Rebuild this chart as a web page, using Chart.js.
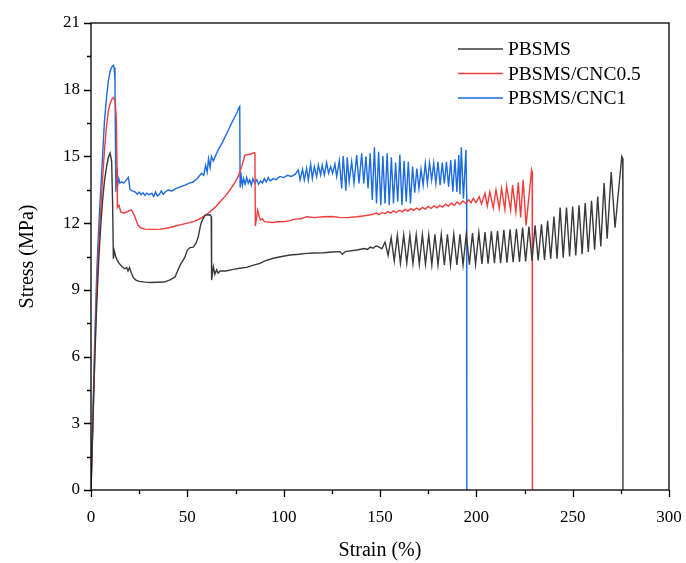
<!DOCTYPE html>
<html>
<head>
<meta charset="utf-8">
<script src="https://cdn.jsdelivr.net/npm/chart.js@4.4.0/dist/chart.umd.min.js"></script>
<style>
  html, body { margin: 0; padding: 0; background: #fff; }
</style>
</head>
<body>
<canvas id="grafica" width="686" height="563"></canvas>
<script>
// valores (deformacion %, esfuerzo MPa)
const blackStrain = [0,1,2,3,4,5,6,7,8,9,9.9,10.7,11.2,11.6,12.1,12.8,13.5,14.5,16,17.5,
  18.5,19.2,20,21,22,23.3,25,28,31,34,38,41,43.6,46.2,48.8,50,51.4,53.1,54.5,55.7,
  56.6,57.4,59.2,61.8,62.4,62.6,63.5,64.3,65.2,66,67,70,73.8,77.3,80.7,84,87.7,90.3,94.6,99,
  103.3,108,112,116,120.6,125,129.2,130.5,132,137.9,142,143.5,145,146.5,148,149.5,
  151.0,152.6,154.2,155.8,157.4,159.0,160.6,162.3,163.9,165.5,167.1,168.8,170.4,172.0,173.6,175.3,176.9,178.5,180.1,181.8,
  183.4,185.0,186.6,188.3,189.9,191.5,193.1,194.8,196.4,198.0,199.6,201.3,202.9,204.5,206.1,207.8,209.4,211.0,212.6,214.3,
  215.9,217.5,219.1,220.8,222.4,224.0,225.6,227.3,228.9,230.5,232.1,233.8,235.4,237.0,238.6,240.3,241.9,243.5,245.1,246.8,
  248.4,250.0,251.6,253.3,254.9,256.5,258.1,259.8,261.4,263.0,264.6,266.3,267.9,270.0,272.0,275.5,276.0,276.1];
const blackStress = [0,3,6,8.4,10.3,11.8,13,13.9,14.5,14.95,15.15,14.8,13,10.4,10.75,10.5,10.35,10.2,10.05,9.95,
  10.0,9.85,10.0,9.75,9.55,9.44,9.38,9.35,9.33,9.34,9.35,9.45,9.58,10.1,10.48,10.79,10.9,10.92,11.1,11.39,
  11.8,12.07,12.36,12.38,12.3,9.44,10.04,9.7,9.9,9.75,9.85,9.85,9.92,9.97,10.01,10.1,10.19,10.3,10.42,10.5,
  10.57,10.6,10.64,10.66,10.67,10.7,10.72,10.6,10.72,10.79,10.86,10.82,10.92,10.87,10.98,10.92,
  10.85,11.15,10.55,11.35,10.3,11.45,10.2,11.47,10.2,11.47,10.18,11.48,10.15,11.48,10.15,11.48,10.12,11.5,10.12,11.5,
  10.12,11.5,10.12,11.5,10.12,11.5,10.12,11.52,10.13,11.55,10.15,11.58,10.17,11.6,10.18,11.63,10.2,11.66,10.2,11.7,
  10.22,11.72,10.24,11.75,10.26,11.8,10.28,11.85,10.3,11.9,10.32,11.95,10.35,12.1,10.4,12.3,10.4,12.7,10.45,12.7,
  10.5,12.75,10.55,12.8,10.6,12.9,10.7,13.0,10.8,13.2,10.95,13.8,11.3,14.3,11.8,15.0,14.9,0];

const redStrain = [0,1,2,3,4,5,6,7,8,9,10,11,11.8,12.6,13.2,13.5,13.7,14.5,15.5,17,
  18.5,19.5,21,22.5,24.4,26,28,32,36,40,43,46.2,50,53.1,56,58.3,61.8,64.5,67,70,
  72.1,74.5,76.4,78.2,79.9,82.5,84.8,85.1,85.3,86.5,87.3,88,89,90,92,94.5,97,99.7,103,106,
  109,112,116,120.6,125,129,133,138,142,146.5,
  148,149.5,151,152.5,154,155.5,157,158.5,160,161.5,163,164.5,166,167.5,169,170.5,172,173.5,175,176.5,
  178,179.5,181,182.5,184,185.5,187,188.5,190,191.5,193,194.5,196,197.3,
  198.4,199.8,201.5,202.7,204.5,205.7,207,208.8,210.2,211.9,213.1,214.8,215.7,217.8,218.8,220.5,221.8,223,224.3,225.8,
  228.7,229,229.1];
const redStress = [0,3,6.2,9,11,12.6,14,15.3,16.3,17.05,17.4,17.6,17.65,17.45,16.6,14.5,12.7,12.8,12.5,12.45,
  12.5,12.55,12.6,12.35,11.9,11.78,11.73,11.72,11.73,11.78,11.85,11.92,12.0,12.07,12.17,12.29,12.51,12.72,12.96,13.25,
  13.49,13.8,14.09,14.54,15.06,15.1,15.17,15.1,11.87,12.59,12.3,12.14,12.2,12.07,12.05,12.03,12.06,12.06,12.1,12.18,
  12.2,12.29,12.25,12.29,12.3,12.26,12.25,12.29,12.33,12.4,
  12.45,12.38,12.48,12.42,12.52,12.45,12.55,12.48,12.58,12.51,12.62,12.54,12.65,12.57,12.68,12.6,12.71,12.63,12.75,12.66,
  12.78,12.69,12.8,12.72,12.85,12.76,12.9,12.8,12.95,12.85,13.0,12.88,13.05,12.92,
  13.11,12.92,13.19,12.86,13.34,12.77,13.41,12.69,13.49,12.67,13.56,12.62,13.67,12.59,13.71,12.51,13.82,12.26,13.95,11.9,
  14.4,14.3,0];

const blueStrain = [0,1,2,3,4,5,6,7,8,9,10,11,11.6,12.0,12.45,12.7,12.9,13.3,13.8,14.4,
  15,15.9,17,18,19.4,20.3,21.5,23,24,25,26,27,28,29,30,31.6,32.5,33.5,34.5,35.5,
  36.5,37.5,38.5,40,42,44,46,48.8,51,53,55,57.4,58.5,59.5,60.3,61,61.8,62.5,63.5,65,
  66,68,70,71.3,73,74.5,75.6,76.8,77.2,77.4,78,78.6,79.2,80,80.8,81.6,82.4,83.2,84,85,
  86,87,88,89,90,91,92,93,94.6,96,98,100,102,104,106,
  107.6,108.5,109.8,110.7,111.9,112.8,114,114.9,115.9,117.1,118,119.2,120,121.1,122.3,123.3,124.4,125.4,126.6,127.5,
  128.9,130.1,130.9,132.3,133,134,135.3,136.5,137.9,139.1,
  140.5,141.6,142.7,143.8,144.9,146.0,147.1,148.2,149.3,150.4,151.5,152.6,153.7,154.8,155.9,157.0,158.1,159.2,160.3,161.4,
  162.5,163.6,164.7,165.8,166.9,168.0,169.1,170.2,171.3,172.4,173.5,174.6,175.7,176.8,177.9,179.0,180.1,181.2,182.3,183.4,
  184.5,185.6,186.7,187.8,188.9,189.9,190.9,191.5,192.2,193.3,194.6,195.0,195.05];
const blueStress = [0,3.5,7,9.8,11.8,13.4,15,16.6,17.6,18.4,18.85,19.05,19.1,19.0,18.4,15.5,13.41,14.4,13.7,14.0,
  13.8,13.86,13.8,13.9,14.06,13.5,13.45,13.4,13.3,13.4,13.28,13.36,13.25,13.35,13.28,13.34,13.2,13.4,13.22,13.3,
  13.45,13.3,13.4,13.49,13.45,13.55,13.62,13.71,13.8,13.85,14.0,14.24,14.15,14.6,14.3,14.9,14.5,15.0,14.8,15.1,
  15.29,15.6,15.95,16.19,16.5,16.75,16.94,17.2,17.25,13.6,14.1,13.7,14.0,13.75,14.05,13.8,13.95,13.7,14.0,13.8,
  13.95,13.75,13.9,13.8,14.0,13.85,14.05,13.9,14.0,13.95,14.1,14.05,14.15,14.1,14.2,
  14.39,13.94,14.42,13.94,14.46,13.94,14.66,14.01,14.54,14.09,14.61,14.16,14.61,14.16,14.72,14.24,14.54,14.24,14.66,14.09,
  14.81,13.56,15.02,13.46,14.96,13.86,14.76,13.79,15.06,13.79,
  15.14,13.79,15.0,13.56,15.14,13.04,15.41,12.89,15.21,12.81,15.02,12.89,15.14,12.81,14.96,12.89,14.72,12.96,15.09,12.81,
  14.8,12.96,14.76,12.89,14.54,13.37,14.45,13.56,14.42,13.71,14.69,13.79,14.72,13.94,14.7,13.79,14.76,13.71,14.72,13.79,
  14.76,13.64,14.84,13.41,14.87,13.4,15.06,13.3,15.41,13.1,15.3,13.2,0];

const etiquetas = ['PBSMS', 'PBSMS/CNC0.5', 'PBSMS/CNC1'];
const colores = ['#3a3a3a', '#f23b3b', '#1c6be0'];

const fuente = "'Liberation Serif', 'Times New Roman', serif";
const ctx = document.getElementById('grafica').getContext('2d');

function puntos(xs, ys) {
  return xs.map((x, i) => ({ x: x, y: ys[i] }));
}

// marco, marcas de los ejes (hacia fuera) y leyenda
const marco = {
  id: 'marco',
  afterDraw(chart) {
    const c = chart.ctx;
    const a = chart.chartArea;
    const sx = chart.scales.x;
    const sy = chart.scales.y;
    c.save();
    c.strokeStyle = '#000';
    c.lineWidth = 1.3;
    c.strokeRect(a.left, a.top, a.right - a.left, a.bottom - a.top);
    c.beginPath();
    sx.ticks.forEach(t => {
      const px = Math.round(sx.getPixelForValue(t.value)) + 0.5;
      const len = t.value % 50 === 0 ? 7 : 4;
      c.moveTo(px, a.bottom);
      c.lineTo(px, a.bottom + len);
    });
    sy.ticks.forEach(t => {
      const py = Math.round(sy.getPixelForValue(t.value)) + 0.5;
      const len = t.value % 3 === 0 ? 7 : 4;
      c.moveTo(a.left, py);
      c.lineTo(a.left - len, py);
    });
    c.stroke();

    // leyenda
    c.font = '19.5px ' + fuente;
    c.textBaseline = 'middle';
    c.fillStyle = '#000';
    chart.data.datasets.forEach((ds, i) => {
      const y = 49 + i * 24.5;
      c.strokeStyle = ds.borderColor;
      c.lineWidth = 1.3;
      c.beginPath();
      c.moveTo(458, y);
      c.lineTo(503, y);
      c.stroke();
      c.fillText(ds.label, 508, y + 1);
    });
    c.restore();
  }
};

const series = [
  [blackStrain, blackStress],
  [redStrain, redStress],
  [blueStrain, blueStress]
];

const chart = new Chart(ctx, {
  type: 'line',
  data: {
    datasets: series.map((s, i) => ({
      label: etiquetas[i],
      data: puntos(s[0], s[1]),
      borderColor: colores[i],
      backgroundColor: colores[i],
      borderWidth: 1.4,
      pointRadius: 0,
      tension: 0,
      fill: false
    }))
  },
  options: {
    responsive: false,
    animation: false,
    layout: { padding: { top: 23, right: 17, left: 0, bottom: 0 } },
    plugins: { legend: { display: false }, tooltip: { enabled: false } },
    scales: {
      x: {
        type: 'linear',
        min: 0,
        max: 300,
        grid: { display: false, drawTicks: false },
        border: { display: false },
        ticks: {
          stepSize: 25,
          autoSkip: false,
          maxRotation: 0,
          padding: 17,
          color: '#000',
          font: { family: fuente, size: 17 },
          callback: v => (v % 50 === 0 ? v : '')
        },
        title: {
          display: true,
          text: 'Strain (%)',
          color: '#000',
          font: { family: fuente, size: 20 },
          padding: { top: 0, bottom: 0 }
        },
        afterFit: s => { s.height = 73; s.paddingLeft = 0; s.paddingRight = 0; }
      },
      y: {
        type: 'linear',
        min: 0,
        max: 21,
        grid: { display: false, drawTicks: false },
        border: { display: false },
        ticks: {
          stepSize: 1.5,
          autoSkip: false,
          padding: 11,
          color: '#000',
          font: { family: fuente, size: 17 },
          callback: v => (v % 3 === 0 ? v : '')
        },
        title: {
          display: true,
          text: 'Stress (MPa)',
          color: '#000',
          font: { family: fuente, size: 20 },
          padding: { top: 16, bottom: 0 }
        },
        afterFit: s => { s.width = 91; s.paddingTop = 0; s.paddingBottom = 0; }
      }
    }
  },
  plugins: [marco]
});
</script>
</body>
</html>
